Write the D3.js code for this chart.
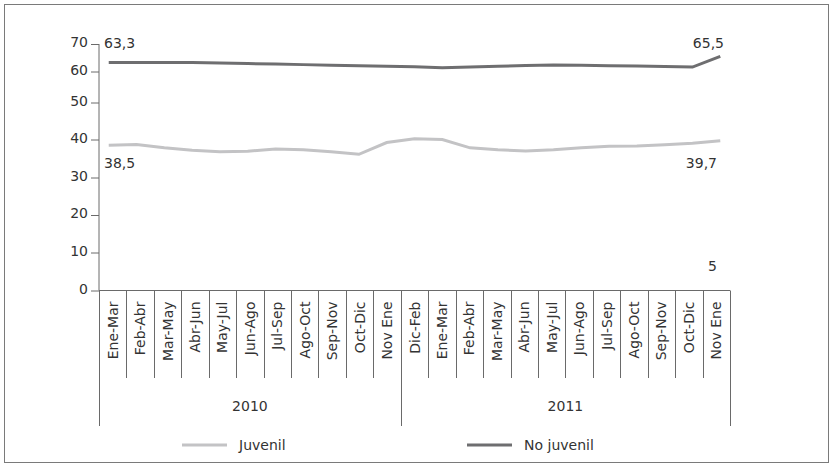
<!DOCTYPE html>
<html>
<head>
<meta charset="utf-8">
<script src="https://cdn.jsdelivr.net/npm/d3@7"></script>
<style>
  html, body { margin: 0; padding: 0; background: #fff; }
  svg { display: block; font-family: "DejaVu Sans", Verdana, sans-serif; }
  text { fill: #333; }
</style>
</head>
<body>
<svg id="chart" width="833" height="468"></svg>
<script>
// Rolling three-month periods
const periods = [
  "Ene-Mar", "Feb-Abr", "Mar-May", "Abr-Jun", "May-Jul", "Jun-Ago", "Jul-Sep",
  "Ago-Oct", "Sep-Nov", "Oct-Dic", "Nov Ene",
  "Dic-Feb", "Ene-Mar", "Feb-Abr", "Mar-May", "Abr-Jun", "May-Jul", "Jun-Ago",
  "Jul-Sep", "Ago-Oct", "Sep-Nov", "Oct-Dic", "Nov Ene"
];
const years = ["2010", "2011"];
const periodsPerYear = [11, 12];

// Series values (%)
const juvenil = [
  38.5, 38.7, 37.8, 37.2, 36.8, 36.9, 37.5, 37.3, 36.8, 36.1, 39.2, 40.2,
  40.0, 37.8, 37.3, 37.0, 37.3, 37.8, 38.2, 38.3, 38.6, 39.0, 39.7
];
const noJuvenil = [
  63.3, 63.3, 63.3, 63.3, 63.1, 62.9, 62.7, 62.5, 62.3, 62.1, 61.9, 61.7,
  61.4, 61.6, 61.9, 62.2, 62.4, 62.3, 62.1, 62.0, 61.8, 61.6, 65.5
];

const yTicks = [0, 10, 20, 30, 40, 50, 60, 70];

// Value labels placed around the ends of the lines
const valueLabels = [
  { text: "63,3", x: 104, y: 48, anchor: "start" },
  { text: "38,5", x: 104, y: 168, anchor: "start" },
  { text: "65,5", x: 724, y: 48, anchor: "end" },
  { text: "39,7", x: 717, y: 168, anchor: "end" },
  { text: "5", x: 717, y: 271, anchor: "end" }
];

const series = [
  { name: "Juvenil", values: juvenil, color: "#c3c3c5" },
  { name: "No juvenil", values: noJuvenil, color: "#6e6e70" }
];

const svg = d3.select("#chart");

// Outer frame
svg.append("rect")
  .attr("x", 4.5).attr("y", 4.5)
  .attr("width", 824).attr("height", 458)
  .attr("fill", "none").attr("stroke", "#7a7a7a").attr("stroke-width", 1);

const plotLeft = 99, plotRight = 730;

// Vertical scale: piecewise, with the spacing used on the value axis
const y = d3.scaleLinear()
  .domain(yTicks)
  .range([290.5, 252.5, 215, 177.5, 139.5, 102.5, 71.5, 44]);

const xBand = d3.scaleBand().domain(d3.range(periods.length)).range([plotLeft, plotRight]);
const xPoint = d3.scalePoint().domain(d3.range(periods.length)).range([plotLeft, plotRight]).padding(0.35);

const axisColor = "#6a6a6a";

// Y axis
const yAxis = svg.append("g")
  .attr("transform", `translate(${plotLeft},0)`)
  .call(d3.axisLeft(y).tickValues(yTicks).tickSize(8).tickPadding(3).tickFormat(d3.format("d")));
yAxis.select(".domain").attr("stroke", axisColor).attr("d", `M0,${y(70)}V${y(0)}`);
yAxis.selectAll(".tick line").attr("stroke", axisColor);
yAxis.selectAll(".tick text")
  .attr("font-size", 14).attr("fill", "#333").attr("dy", "0.18em")
  .attr("font-family", "DejaVu Sans, Verdana, sans-serif");

// X axis baseline
svg.append("line")
  .attr("x1", plotLeft).attr("x2", plotRight)
  .attr("y1", y(0)).attr("y2", y(0))
  .attr("stroke", axisColor);

// Category separators
const sepBottom = 378, yearBottom = 426;
const boundaries = d3.range(periods.length + 1).map(i => i < periods.length ? xBand(i) : plotRight);
let yearEdges = [0];
periodsPerYear.forEach(n => yearEdges.push(yearEdges[yearEdges.length - 1] + n));

svg.append("g").selectAll("line")
  .data(boundaries.map((b, i) => ({ b, i })))
  .join("line")
  .attr("x1", d => Math.round(d.b) + 0.5).attr("x2", d => Math.round(d.b) + 0.5)
  .attr("y1", y(0))
  .attr("y2", d => yearEdges.includes(d.i) ? yearBottom : sepBottom)
  .attr("stroke", axisColor);

// Period labels, rotated
svg.append("g").selectAll("text")
  .data(periods)
  .join("text")
  .attr("transform", (d, i) => `translate(${xBand(i) + xBand.bandwidth() / 2 + 5},${y(0) + 11}) rotate(-90)`)
  .attr("text-anchor", "end")
  .attr("font-size", 14)
  .text(d => d);

// Year labels
svg.append("g").selectAll("text")
  .data(years)
  .join("text")
  .attr("x", (d, i) => (boundaries[yearEdges[i]] + boundaries[yearEdges[i + 1]]) / 2)
  .attr("y", 411)
  .attr("text-anchor", "middle")
  .attr("font-size", 14)
  .text(d => d);

// Series lines
const line = d3.line().x((d, i) => xPoint(i)).y(d => y(d));
svg.append("g").selectAll("path")
  .data(series)
  .join("path")
  .attr("d", d => line(d.values))
  .attr("fill", "none")
  .attr("stroke", d => d.color)
  .attr("stroke-width", 3);

// Value labels
svg.append("g").selectAll("text")
  .data(valueLabels)
  .join("text")
  .attr("x", d => d.x).attr("y", d => d.y)
  .attr("text-anchor", d => d.anchor)
  .attr("font-size", 14)
  .text(d => d.text);

// Legend
const legendItems = [
  { s: series[0], x: 182 },
  { s: series[1], x: 467 }
];
const lg = svg.append("g").selectAll("g").data(legendItems).join("g")
  .attr("transform", d => `translate(${d.x},445)`);
lg.append("line").attr("x1", 0).attr("x2", 45).attr("y1", 0).attr("y2", 0)
  .attr("stroke", d => d.s.color).attr("stroke-width", 3);
lg.append("text").attr("x", 57).attr("y", 5).attr("font-size", 14).text(d => d.s.name);
</script>
</body>
</html>
